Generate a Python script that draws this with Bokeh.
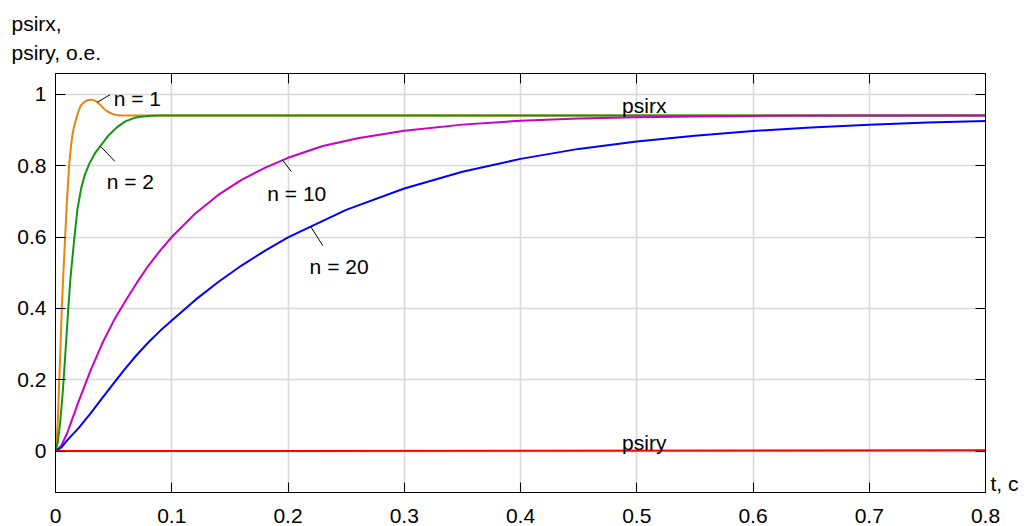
from bokeh.plotting import figure
from bokeh.models import LinearAxis, Label, ColumnDataSource, FixedTicker, Range1d, Title
from bokeh.embed import file_html
from bokeh.resources import INLINE

# ---- data ----
x_ticks = [0, 0.1, 0.2, 0.3, 0.4, 0.5, 0.6, 0.7, 0.8]
x_tick_labels = ["0", "0.1", "0.2", "0.3", "0.4", "0.5", "0.6", "0.7", "0.8"]
y_ticks = [0, 0.2, 0.4, 0.6, 0.8, 1.0]
y_tick_labels = ["0", "0.2", "0.4", "0.6", "0.8", "1"]
y_title_lines = ["psirx,", "psiry, o.e."]
x_title = "t, c"

# n = 1 (orange)
t_n1 = [0, 0.001, 0.002, 0.0032, 0.0043, 0.0054, 0.0068, 0.0083, 0.0100, 0.0117, 0.0135,
        0.0150, 0.0174, 0.0195, 0.0217, 0.0240, 0.0260, 0.0280, 0.0310, 0.0335, 0.0360,
        0.0390, 0.0418, 0.0450, 0.0490, 0.0520, 0.0560, 0.8]
v_n1 = [0, 0.03, 0.085, 0.196, 0.29, 0.40, 0.50, 0.60, 0.71, 0.80, 0.86,
        0.895, 0.927, 0.950, 0.968, 0.976, 0.981, 0.984, 0.985, 0.983, 0.978,
        0.969, 0.959, 0.951, 0.945, 0.942, 0.9405, 0.9405]

# n = 2 (green)
t_n2 = [0, 0.002, 0.004, 0.006, 0.0069, 0.008, 0.010, 0.011, 0.013, 0.0163, 0.019, 0.022,
        0.025, 0.029, 0.034, 0.040, 0.046, 0.053, 0.060, 0.068, 0.075, 0.082, 0.090, 0.8]
v_n2 = [0, 0.025, 0.08, 0.155, 0.196, 0.25, 0.35, 0.40, 0.49, 0.60, 0.68, 0.735,
        0.772, 0.805, 0.835, 0.861, 0.886, 0.908, 0.924, 0.934, 0.938, 0.940, 0.9405, 0.9405]

# n = 10 (magenta)
t_n10 = [0, 0.005, 0.010, 0.015, 0.020, 0.030, 0.040, 0.050, 0.060, 0.070, 0.080, 0.090,
         0.100, 0.120, 0.140, 0.160, 0.180, 0.200, 0.230, 0.260, 0.300, 0.350, 0.400,
         0.450, 0.500, 0.550, 0.600, 0.700, 0.800]
v_n10 = [0, 0.015, 0.05, 0.095, 0.14, 0.225, 0.30, 0.365, 0.42, 0.472, 0.52, 0.562,
         0.600, 0.665, 0.718, 0.760, 0.794, 0.822, 0.855, 0.877, 0.898, 0.915, 0.926,
         0.932, 0.936, 0.938, 0.9395, 0.9405, 0.9405]

# n = 20 (blue)
t_n20 = [0, 0.005, 0.010, 0.020, 0.030, 0.040, 0.050, 0.060, 0.070, 0.080, 0.090, 0.100,
         0.120, 0.140, 0.160, 0.180, 0.200, 0.250, 0.300, 0.350, 0.400, 0.450, 0.500,
         0.550, 0.600, 0.650, 0.700, 0.750, 0.800]
v_n20 = [0, 0.01, 0.03, 0.065, 0.105, 0.148, 0.19, 0.231, 0.27, 0.305, 0.337, 0.366,
         0.423, 0.474, 0.520, 0.561, 0.599, 0.676, 0.736, 0.783, 0.819, 0.847, 0.868,
         0.884, 0.897, 0.907, 0.915, 0.921, 0.9255]

# psiry (red)
t_y = [0, 0.2, 0.4, 0.6, 0.8]
v_y = [0, 0.0005, 0.001, 0.0015, 0.002]

FONT = "Liberation Sans"
FS = "21px"
W, H = 1034, 526

p = figure(width=W, height=H, output_backend="svg", toolbar_location=None,
           x_range=Range1d(0, 0.8), y_range=Range1d(-0.1161, 1.0583),
           x_axis_location=None, y_axis_location=None,
           min_border_left=55, min_border_right=49, min_border_top=73, min_border_bottom=34)
p.background_fill_color = "white"
p.border_fill_color = "white"
p.outline_line_color = "black"
p.outline_line_width = 1

def make_axis(ticks, labels, show_labels, standoff):
    ax = LinearAxis(ticker=FixedTicker(ticks=ticks))
    ax.major_label_overrides = {t: (l if show_labels else "") for t, l in zip(ticks, labels)}
    ax.major_tick_in = 10
    ax.major_tick_out = 0
    ax.minor_tick_in = 0
    ax.minor_tick_out = 0
    ax.axis_line_color = "black"
    ax.major_tick_line_color = "black"
    ax.major_label_text_font = FONT
    ax.major_label_text_font_size = FS if show_labels else "1px"
    ax.major_label_text_color = "black"
    ax.major_label_standoff = standoff
    return ax

p.add_layout(make_axis(x_ticks, x_tick_labels, True, 16), "below")
p.add_layout(make_axis(x_ticks, x_tick_labels, False, 0), "above")
p.add_layout(make_axis(y_ticks, y_tick_labels, True, 9), "left")
p.add_layout(make_axis(y_ticks, y_tick_labels, False, 0), "right")

# x-axis name, drawn to the right of the frame near its bottom edge
TC_POS = -0.090
ax_tc = LinearAxis(ticker=FixedTicker(ticks=[TC_POS]), major_label_overrides={TC_POS: x_title})
ax_tc.major_tick_in = 0
ax_tc.major_tick_out = 0
ax_tc.minor_tick_in = 0
ax_tc.minor_tick_out = 0
ax_tc.axis_line_color = None
ax_tc.major_tick_line_color = None
ax_tc.major_label_text_font = FONT
ax_tc.major_label_text_font_size = FS
ax_tc.major_label_text_color = "black"
ax_tc.major_label_standoff = 5
p.add_layout(ax_tc, "right")

# y-axis name, two lines above the frame
p.add_layout(Title(text="\n".join(y_title_lines), align="left", offset=-44, standoff=18,
                   text_font=FONT, text_font_size=FS, text_font_style="normal",
                   text_line_height=1.29, text_color="black"), "above")

p.xgrid.ticker = FixedTicker(ticks=x_ticks)
p.ygrid.ticker = FixedTicker(ticks=y_ticks)
for g in (p.xgrid, p.ygrid):
    g.grid_line_color = "#D9D9D9"
    g.grid_line_width = 1.6

p.line(t_n1, v_n1, line_color="#E8850E", line_width=2)
p.line(t_n2, v_n2, line_color="#129612", line_width=2)
p.line(t_n10, v_n10, line_color="#C800C8", line_width=2)
p.line(t_n20, v_n20, line_color="#0000FF", line_width=2)
p.line(t_y, v_y, line_color="#FF0000", line_width=2)

# pointer lines
seg = ColumnDataSource(dict(
    x0=[0.0361, 0.0389, 0.1951, 0.2195],
    y0=[0.978, 0.8536, 0.8163, 0.6290],
    x1=[0.0470, 0.0510, 0.2029, 0.2300],
    y1=[0.9989, 0.8123, 0.7835, 0.5757]))
p.segment(x0="x0", y0="y0", x1="x1", y1="y1", source=seg, line_color="black", line_width=1)

def lab(x, y, text):
    p.add_layout(Label(x=x, y=y, text=text, text_font=FONT, text_font_size=FS,
                       text_color="black", text_align="left", text_baseline="alphabetic"))

lab(0.0501, 0.9896, "n = 1")
lab(0.0440, 0.7545, "n = 2")
lab(0.1822, 0.7226, "n = 10")
lab(0.2186, 0.5178, "n = 20")
lab(0.4874, 0.9686, "psirx")
lab(0.4874, 0.0241, "psiry")

open("out.html", "w").write(file_html(p, INLINE))
